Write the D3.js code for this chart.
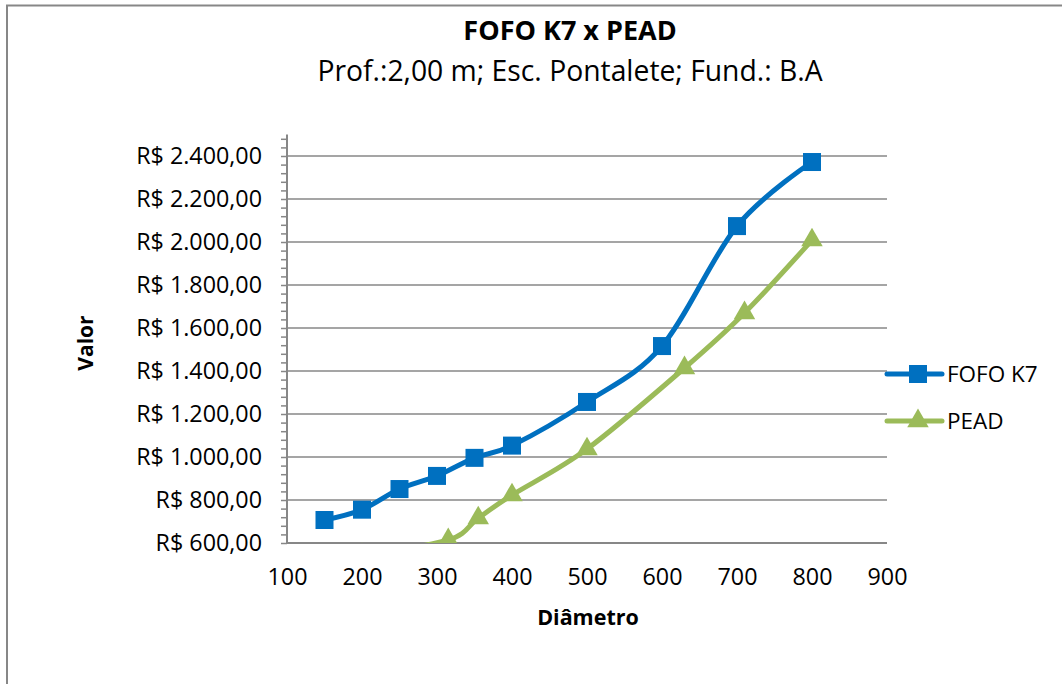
<!DOCTYPE html>
<html><head><meta charset="utf-8">
<script src="https://cdn.jsdelivr.net/npm/d3@7"></script>
<style>body{margin:0;background:#fff}svg{display:block}text{font-family:"Open Sans",sans-serif}</style>
</head><body><svg id="c" width="1062" height="684"></svg>
<script>
const title = "FOFO K7 x PEAD";
const subtitle = "Prof.:2,00 m; Esc. Pontalete; Fund.: B.A";
const xTitle = "Diâmetro";
const yTitle = "Valor";
const seriesNames = ["FOFO K7", "PEAD"];
const fofoX = [150, 200, 250, 300, 350, 400, 500, 600, 700, 800];
const fofoY = [707, 755, 851, 912, 996, 1053, 1256, 1516, 2074, 2372];
const peadX = [200, 315, 355, 400, 500, 630, 710, 800];
const peadY = [545, 614, 716, 823, 1037, 1414, 1670, 2009];
const xTicks = [100, 200, 300, 400, 500, 600, 700, 800, 900];
const yTicks = [600, 800, 1000, 1200, 1400, 1600, 1800, 2000, 2200, 2400];

const svg = d3.select("#c");
const L = 287, R = 887, T = 134.5, B = 543;
const x = d3.scaleLinear().domain([100, 900]).range([L, R]);
const y = d3.scaleLinear().domain([600, 2500]).range([B, T]);
const fmt = v => "R$ " + d3.format(",.2f")(v).replace(/,/g, "#").replace(".", ",").replace(/#/g, ".");

// chart border
svg.append("path").attr("d", "M7,690 V5.5 H1070").attr("fill", "none").attr("stroke", "#878787").attr("stroke-width", 2);

// gridlines
svg.append("g").selectAll("line").data(yTicks).join("line")
  .attr("x1", L).attr("x2", R).attr("y1", d => y(d)).attr("y2", d => y(d))
  .attr("stroke", "#878787").attr("stroke-width", 1.5);

// y axis
const yMinor = d3.range(600, 2501, 40);
const yAxis = svg.append("g").attr("transform", `translate(${L},0)`)
  .call(d3.axisLeft(y).tickValues(yMinor).tickSize(6).tickFormat(""));
yAxis.selectAll("line").attr("stroke", "#878787").attr("stroke-width", 1.5);
yAxis.select(".domain").attr("stroke", "#878787").attr("stroke-width", 2).attr("d", `M0,${T}V${B}`);
svg.append("g").selectAll("text").data(yTicks).join("text")
  .attr("x", 262).attr("y", d => y(d)).attr("dy", "0.36em").attr("text-anchor", "end")
  .attr("font-size", 23.3).attr("fill", "#000").text(fmt);

// x axis
svg.append("line").attr("x1", L).attr("x2", R).attr("y1", B).attr("y2", B)
  .attr("stroke", "#878787").attr("stroke-width", 2);
const xAxis = svg.append("g").attr("transform", `translate(0,${B})`)
  .call(d3.axisBottom(x).tickValues(xTicks).tickSize(0).tickPadding(25));
xAxis.select(".domain").remove();
xAxis.selectAll("text").attr("font-size", 23.3).attr("fill", "#000").attr("font-family", "Open Sans");

// titles
svg.append("text").attr("x", 570).attr("y", 40).attr("text-anchor", "middle")
  .attr("font-size", 27).attr("font-weight", "bold").text(title);
svg.append("text").attr("x", 570).attr("y", 81).attr("text-anchor", "middle")
  .attr("font-size", 28.3).text(subtitle);
svg.append("text").attr("x", 588).attr("y", 625).attr("text-anchor", "middle")
  .attr("font-size", 21.5).attr("font-weight", "bold").text(xTitle);
svg.append("text").attr("transform", "translate(93,343) rotate(-90)").attr("text-anchor", "middle")
  .attr("font-size", 21).attr("font-weight", "bold").text(yTitle);

// clip
svg.append("clipPath").attr("id", "clip").append("rect").attr("x", L).attr("y", T - 30).attr("width", R - L).attr("height", B - T + 30);

const line = d3.line().x(d => x(d[0])).y(d => y(d[1])).curve(d3.curveCardinal.tension(0));
const fofo = fofoX.map((v, i) => [v, fofoY[i]]);
const pead = peadX.map((v, i) => [v, peadY[i]]);
const blue = "#0070C0", green = "#9BBB59";
const gp = svg.append("g").attr("clip-path", "url(#clip)");
gp.append("path").datum(fofo).attr("d", line).attr("fill", "none").attr("stroke", blue).attr("stroke-width", 5).attr("stroke-linejoin", "round");
gp.append("path").datum(pead).attr("d", line).attr("fill", "none").attr("stroke", green).attr("stroke-width", 5).attr("stroke-linejoin", "round");
const sq = 18;
gp.append("g").selectAll("rect").data(fofo).join("rect")
  .attr("x", d => x(d[0]) - sq / 2).attr("y", d => y(d[1]) - sq / 2).attr("width", sq).attr("height", sq).attr("fill", blue);
const tri = d3.symbol().type(d3.symbolTriangle).size(200);
gp.append("g").selectAll("path").data(pead).join("path")
  .attr("transform", d => `translate(${x(d[0])},${y(d[1])})`).attr("d", tri).attr("fill", green);

// legend
const lg = svg.append("g");
[[blue, 374, "sq"], [green, 421, "tri"]].forEach(([c, ly, m], i) => {
  lg.append("line").attr("x1", 887).attr("x2", 942).attr("y1", ly).attr("y2", ly).attr("stroke", c).attr("stroke-width", 5).attr("stroke-linecap", "round");
  if (m === "sq") lg.append("rect").attr("x", 918 - sq / 2).attr("y", ly - sq / 2).attr("width", sq).attr("height", sq).attr("fill", c);
  else lg.append("path").attr("transform", `translate(918,${ly})`).attr("d", tri).attr("fill", c);
  lg.append("text").attr("x", 947).attr("y", ly).attr("dy", "0.36em").attr("font-size", 22.5).text(seriesNames[i]);
});
</script></body></html>
